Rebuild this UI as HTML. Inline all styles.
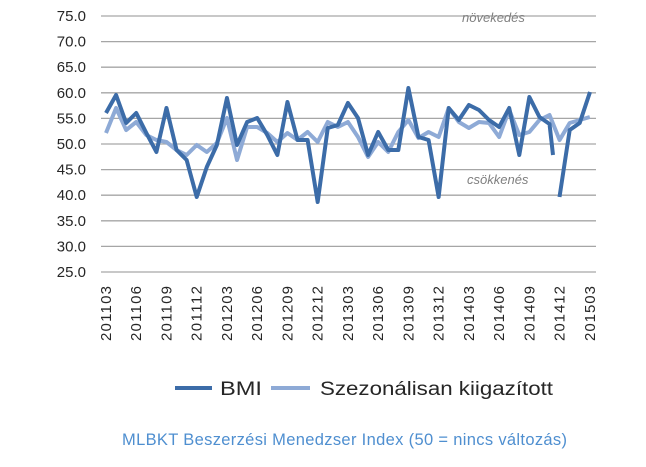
<!DOCTYPE html>
<html><head><meta charset="utf-8"><style>body{margin:0;background:#fff}svg{display:block}</style></head>
<body>
<svg width="646" height="467" xmlns="http://www.w3.org/2000/svg" font-family="Liberation Sans, sans-serif">
<g stroke="#a6a6a6" stroke-width="1.3" id="grid"></g>
<g id="yl" font-size="15" fill="#262626" text-anchor="end"></g>
<g id="xl" font-size="15" fill="#262626"></g>
<text x="462" y="22" font-size="13" font-style="italic" fill="#7f7f7f">növekedés</text>
<text x="467" y="184" font-size="13" font-style="italic" fill="#7f7f7f">csökkenés</text>
<polyline id="light" fill="none" stroke="#8eaad6" stroke-width="4" stroke-linejoin="round"/>
<polyline id="dark1" fill="none" stroke="#3c6ca8" stroke-width="4" stroke-linejoin="round"/>
<polyline id="dark2" fill="none" stroke="#3c6ca8" stroke-width="4" stroke-linejoin="round"/>
<line x1="175" y1="388" x2="212" y2="388" stroke="#3c6ca8" stroke-width="4"/>
<text x="220" y="395" font-size="19" fill="#262626" textLength="42" lengthAdjust="spacingAndGlyphs">BMI</text>
<line x1="271" y1="388" x2="310" y2="388" stroke="#8eaad6" stroke-width="4"/>
<text x="320" y="395" font-size="19" fill="#262626" textLength="233" lengthAdjust="spacingAndGlyphs">Szezonálisan kiigazított</text>
<text x="122" y="445" font-size="16.5" fill="#4f8fd0" textLength="445">MLBKT Beszerzési Menedzser Index (50 = nincs változás)</text>
</svg>
<script>
const NS="http://www.w3.org/2000/svg";
const g=document.getElementById('grid'),yl=document.getElementById('yl'),xl=document.getElementById('xl');
for(let k=0;k<=10;k++){const y=16+k*25.6;const l=document.createElementNS(NS,'line');l.setAttribute('x1',101);l.setAttribute('x2',596);l.setAttribute('y1',y);l.setAttribute('y2',y);g.appendChild(l);
const t=document.createElementNS(NS,'text');t.setAttribute('x',86);t.setAttribute('y',y+5);t.textContent=(75-5*k).toFixed(1);yl.appendChild(t);}
const labs=["201103","201106","201109","201112","201203","201206","201209","201212","201303","201306","201309","201312","201403","201406","201409","201412","201503"];
labs.forEach((s,k)=>{const x=106+30.24*k+5;const t=document.createElementNS(NS,'text');t.setAttribute('transform',`translate(${x},341) rotate(-90)`);t.setAttribute('textLength',55);t.textContent=s;xl.appendChild(t);});
const X=i=>106+10.08*i;
const d=[113,95,123,113,133,152,108,150,160,197,167,145,98,145,122,118,135,155,102,140,140,202,128,125,103,118,155,132,150,150,88,137,140,197,108,120,105,110,120,127,108,155,97,117,124];
const L=[133,108,130,122,135,140,142,150,155,145,152,143,118,160,127,127,133,142,133,140,132,142,122,127,122,137,157,142,152,132,120,138,132,137,108,122,128,122,123,137,110,135,132,120,115,140,123,120,117];
let p1=d.map((y,i)=>X(i)+","+y).join(" ")+" 553,155";
document.getElementById('dark1').setAttribute('points',p1);
document.getElementById('dark2').setAttribute('points',"559.5,197 569.7,130 579.7,123 590,92");
document.getElementById('light').setAttribute('points',L.map((y,i)=>X(i)+","+y).join(" "));
</script>
</body></html>
